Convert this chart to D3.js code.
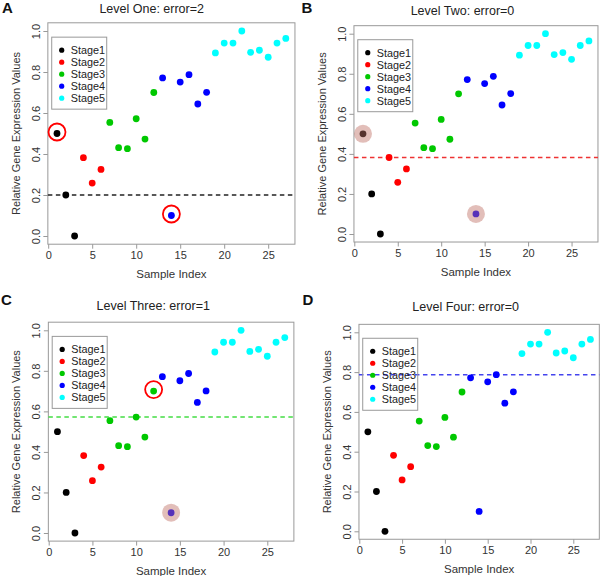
<!DOCTYPE html>
<html><head><meta charset="utf-8">
<script src="https://cdn.jsdelivr.net/npm/d3@7"></script>
<style>body{margin:0;background:#fff}svg{display:block}text{font-family:"Liberation Sans",Arial,sans-serif}</style>
</head><body>
<script>
// ---- data ----
const sampleIndex = [1,2,3,4,5,6,7,8,9,10,11,12,13,14,15,16,17,18,19,20,21,22,23,24,25,26,27];
const expressionValues = [0.5,0.2,0.0,0.382,0.258,0.325,0.554,0.431,0.426,0.572,0.473,0.7,0.771,0.1,0.751,0.787,0.644,0.701,0.893,0.941,0.941,1.0,0.896,0.906,0.872,0.941,0.964];
const sampleStage = [1,1,1,2,2,2,3,3,3,3,3,3,4,4,4,4,4,4,5,5,5,5,5,5,5,5,5];
const stageNames = ["Stage1","Stage2","Stage3","Stage4","Stage5"];
const stageColors = ["#000000","#ff0000","#00c800","#0000ff","#00ffff"];
const panelLetters = ["A","B","C","D"];
const panelTitles = ["Level One: error=2","Level Two: error=0","Level Three: error=1","Level Four: error=0"];
const thresholds = [0.2,0.382,0.572,0.787];
const thresholdColors = ["#222222","#ee3333","#44dd44","#4444ee"];
const redCircled = [[1,14],[],[12],[]];
const shaded = [[],[1,14],[14],[]];
const xTicks = [0,5,10,15,20,25];
const yTicks = [0,0.2,0.4,0.6,0.8,1.0];

// ---- layout ----
const layout = [
  {x0:48.2, xu:8.8,  y0:236,   yu:205,   lx:2,     ly:13,    tx:151.7, ty:13},
  {x0:354.3,xu:8.69, y0:234,   yu:200.3, lx:301.5, ly:13,    tx:462.5, ty:15},
  {x0:48.7, xu:8.744,y0:533,   yu:202.7, lx:1,     ly:305,   tx:153.3, ty:309.7},
  {x0:359.3,xu:8.56, y0:531.3, yu:199,   lx:302.5, ly:305,   tx:465.7, ty:310.7}
];

const svg = d3.select("body").append("svg").attr("width",600).attr("height",576);
const boxCol = "#999", txtCol = "#333";

layout.forEach((L,p)=>{
  const x = d3.scaleLinear().domain([-0.04,28.04]).range([L.x0-0.04*L.xu, L.x0+28.04*L.xu]);
  const y = d3.scaleLinear().domain([-0.04,1.04]).range([L.y0+0.04*L.yu, L.y0-1.04*L.yu]);
  const [xl,xr] = x.range(), [yb,yt] = y.range();
  const g = svg.append("g");

  // panel letter & title
  g.append("text").attr("x",L.lx).attr("y",L.ly).attr("font-size",15).attr("font-weight","bold").attr("fill","#111").text(panelLetters[p]);
  g.append("text").attr("x",L.tx).attr("y",L.ty).attr("text-anchor","middle").attr("font-size",12.5).attr("fill","#222").text(panelTitles[p]);

  // axes
  const xa = g.append("g").attr("transform",`translate(0,${yb})`)
    .call(d3.axisBottom(x).tickValues(xTicks).tickSize(4.5).tickPadding(2.5).tickFormat(d3.format("d")));
  xa.select(".domain").remove();
  xa.selectAll("line").attr("stroke",boxCol);
  xa.selectAll("text").attr("font-size",11).attr("fill",txtCol).attr("font-family","Liberation Sans, Arial");
  const ya = g.append("g").attr("transform",`translate(${xl},0)`)
    .call(d3.axisLeft(y).tickValues(yTicks).tickSize(4.5).tickFormat(d3.format(".1f")));
  ya.select(".domain").remove();
  ya.selectAll("line").attr("stroke",boxCol);
  ya.selectAll("text").attr("font-size",11).attr("fill",txtCol).attr("font-family","Liberation Sans, Arial")
    .attr("x",0).attr("dy",0).attr("text-anchor","middle")
    .attr("transform","translate(-8,0) rotate(-90)");

  // box
  g.append("rect").attr("x",xl).attr("y",yt).attr("width",xr-xl).attr("height",yb-yt)
    .attr("fill","none").attr("stroke",boxCol).attr("stroke-width",1);

  // axis titles
  g.append("text").attr("x",(xl+xr)/2).attr("y",yb+33.5).attr("text-anchor","middle").attr("font-size",11.5).attr("fill",txtCol).text("Sample Index");
  g.append("text").attr("transform",`translate(${xl-28},${(yt+yb)/2}) rotate(-90)`).attr("text-anchor","middle").attr("font-size",11).attr("fill",txtCol).text("Relative Gene Expression Values");

  // threshold
  g.append("line").attr("x1",xl).attr("x2",xr).attr("y1",y(thresholds[p])).attr("y2",y(thresholds[p]))
    .attr("stroke",thresholdColors[p]).attr("stroke-width",1.6).attr("stroke-dasharray","4.5,3.5");

  // points
  g.selectAll("circle.pt").data(sampleIndex).join("circle").attr("class","pt")
    .attr("cx",(d)=>x(d)).attr("cy",(d,i)=>y(expressionValues[i])).attr("r",3.4)
    .attr("fill",(d,i)=>stageColors[sampleStage[i]-1]);

  // shaded overlays
  g.selectAll("circle.sh").data(shaded[p]).join("circle").attr("class","sh")
    .attr("cx",d=>x(d)).attr("cy",d=>y(expressionValues[sampleIndex.indexOf(d)])).attr("r",9)
    .attr("fill","rgba(190,110,100,0.45)");
  // red circles
  g.selectAll("circle.rc").data(redCircled[p]).join("circle").attr("class","rc")
    .attr("cx",d=>x(d)).attr("cy",d=>y(expressionValues[sampleIndex.indexOf(d)])-1.5).attr("r",8.5)
    .attr("fill","none").attr("stroke","#ff0000").attr("stroke-width",1.8);

  // legend
  const lgX = x(0.4), lgY = y(0.97);
  const lg = g.append("g").attr("transform",`translate(${lgX},${lgY})`);
  lg.append("rect").attr("width",55).attr("height",72).attr("fill","#fff").attr("fill-opacity",0).attr("stroke",boxCol);
  stageNames.forEach((s,i)=>{
    const ry = 13 + i*12;
    lg.append("circle").attr("cx",10).attr("cy",ry).attr("r",2.6).attr("fill",stageColors[i]);
    lg.append("text").attr("x",19).attr("y",ry).attr("dy","0.36em").attr("font-size",10.8).attr("fill","#222").text(s);
  });
});
</script>
</body></html>
